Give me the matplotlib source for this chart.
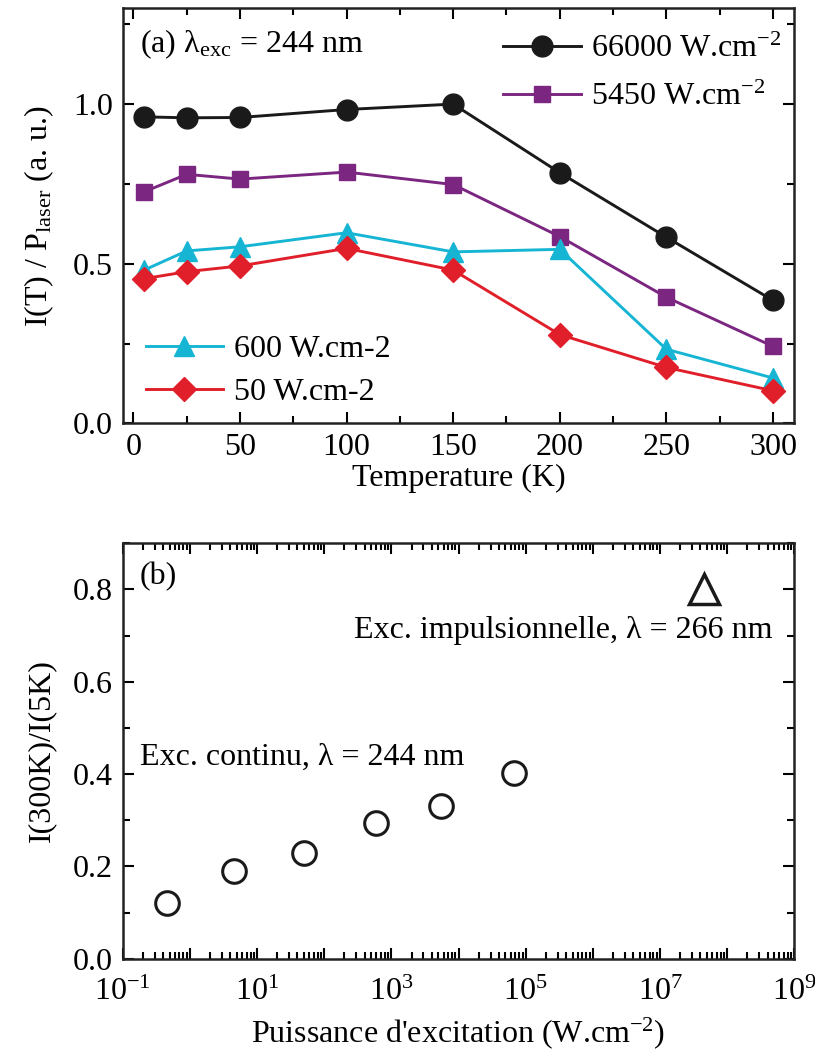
import matplotlib.pyplot as plt
from matplotlib.ticker import MultipleLocator, LogLocator, NullFormatter
import numpy as np

plt.rcParams['font.family'] = ['Liberation Serif', 'DejaVu Serif']
plt.rcParams['mathtext.fontset'] = 'custom'
plt.rcParams['mathtext.rm'] = 'Liberation Serif'
plt.rcParams['mathtext.it'] = 'Liberation Serif:italic'
plt.rcParams['font.size'] = 23

# (a) normalized intensity vs temperature
temperature = [5, 25, 50, 100, 150, 200, 250, 300]
i_66000 = [0.960, 0.957, 0.958, 0.983, 1.000, 0.785, 0.583, 0.385]
i_5450 = [0.725, 0.780, 0.765, 0.787, 0.748, 0.585, 0.395, 0.241]
i_600 = [0.480, 0.540, 0.553, 0.597, 0.537, 0.545, 0.232, 0.142]
i_50 = [0.453, 0.475, 0.493, 0.548, 0.480, 0.278, 0.175, 0.102]

# (b) ratio I(300K)/I(5K) vs excitation power
power_cw = [0.45, 4.5, 50, 600, 5450, 66000]
ratio_cw = [0.120, 0.190, 0.228, 0.295, 0.330, 0.402]
power_pulsed = [4.5e7]
ratio_pulsed = [0.800]

black = '#1a1a1a'
purple = '#7b2680'
cyan = '#17b5d4'
red = '#e01f2a'

fig = plt.figure(figsize=(8.15, 10.52), dpi=100)
ax1 = fig.add_axes([0.1506, 0.5976, 0.8240, 0.3945])
ax2 = fig.add_axes([0.1506, 0.0887, 0.8240, 0.3949])

l1, = ax1.plot(temperature, i_66000, '-o', color=black, lw=2.1, ms=15, label='66000 W.cm$^{-2}$')
l2, = ax1.plot(temperature, i_5450, '-s', color=purple, lw=2.1, ms=12, label='5450 W.cm$^{-2}$')
l3, = ax1.plot(temperature, i_600, '-^', color=cyan, lw=2.1, ms=14.5, label='600 W.cm-2')
l4, = ax1.plot(temperature, i_50, '-D', color=red, lw=2.1, ms=12.5, label='50 W.cm-2')

ax1.set_xlim(-5, 310)
ax1.set_ylim(0, 1.3)
ax1.xaxis.set_major_locator(MultipleLocator(50))
ax1.xaxis.set_minor_locator(MultipleLocator(25))
ax1.set_yticks([0.0, 0.5, 1.0])
ax1.set_yticklabels(['0.0', '0.5', '1.0'])
ax1.yaxis.set_minor_locator(MultipleLocator(0.25))
ax1.set_xlabel('Temperature (K)', labelpad=1)
ax1.set_ylabel('I(T) / P$_{\\rm laser}$ (a. u.)', labelpad=12)
ax1.text(0.025, 0.955, '(a) λ$_{\\rm exc}$ = 244 nm', transform=ax1.transAxes, va='top', ha='left')

leg1 = ax1.legend(handles=[l1, l2], loc='upper left', bbox_to_anchor=(0.547, 0.968),
                  frameon=False, fontsize=23, handlelength=2.45, handletextpad=0.3,
                  borderaxespad=0.0, labelspacing=0.6)
ax1.add_artist(leg1)
ax1.legend(handles=[l3, l4], loc='lower left', bbox_to_anchor=(0.011, 0.0),
           frameon=False, fontsize=23, handlelength=2.4, handletextpad=0.35,
           borderaxespad=0.1, labelspacing=0.43)

ax2.plot(power_cw, ratio_cw, 'o', ms=17, mfc='none', mec=black, mew=2.2)
ax2.plot(power_pulsed, ratio_pulsed, '^', ms=21, mfc='none', mec=black, mew=2.5)
ax2.set_xscale('log')
ax2.set_xlim(1e-1, 1e9)
ax2.set_ylim(0, 0.9)
ax2.xaxis.set_minor_locator(LogLocator(base=10, subs=np.arange(2, 10), numticks=100))
ax2.xaxis.set_minor_formatter(NullFormatter())
decades = list(range(-1, 10))
ax2.set_xticks([10.0 ** d for d in decades])
ax2.set_xticklabels(['10$^{%d}$' % d if d % 2 != 0 else '' for d in decades])
ax2.yaxis.set_minor_locator(MultipleLocator(0.1))
ax2.set_yticks([0.0, 0.2, 0.4, 0.6, 0.8])
ax2.set_yticklabels(['0.0', '0.2', '0.4', '0.6', '0.8'])
ax2.set_xlabel("Puissance d'excitation (W.cm$^{-2}$)", labelpad=6)
ax2.set_ylabel('I(300K)/I(5K)', labelpad=12)
ax2.text(0.025, 0.955, '(b)', transform=ax2.transAxes, va='top', ha='left')
ax2.text(0.967, 0.79, 'Exc. impulsionnelle, λ = 266 nm', transform=ax2.transAxes, va='center', ha='right')
ax2.text(0.025, 0.484, 'Exc. continu, λ = 244 nm', transform=ax2.transAxes, va='center', ha='left')

for ax in (ax1, ax2):
    ax.tick_params(which='both', direction='in', top=True, right=True, width=1.5)
    ax.tick_params(which='major', length=8, pad=7)
    ax.tick_params(which='minor', length=5)
    for s in ax.spines.values():
        s.set_linewidth(1.8)
        s.set_color('#222222')
ax2.tick_params(axis='x', which='major', pad=14)

fig.savefig('out.png', dpi=100)
